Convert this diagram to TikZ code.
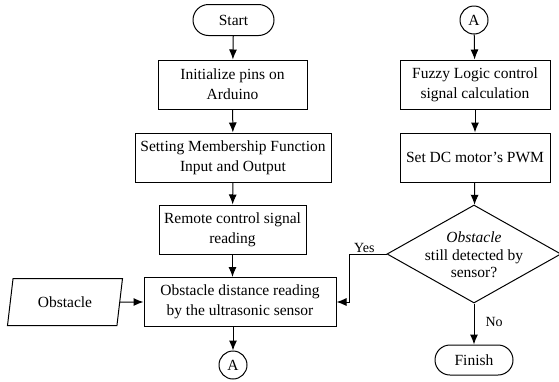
\documentclass[tikz,border=0pt]{standalone}
\usepackage{fontspec}
\setmainfont{Liberation Serif}
\usetikzlibrary{shapes.geometric,shapes.misc,arrows.meta}
\begin{document}
\begin{tikzpicture}[x=1pt,y=-1pt,
  every node/.style={font=\fontsize{15.5}{20}\selectfont},
  box/.style={draw,line width=1pt,rectangle,minimum height=49pt,align=center,inner sep=0pt},
  term/.style={draw,line width=1pt,rounded rectangle,rounded rectangle arc length=180,inner sep=0pt,minimum height=31pt},
  conn/.style={draw,line width=1pt,circle,minimum size=28pt,inner sep=0pt},
  arr/.style={line width=1pt,-{Latex[length=10pt,width=8pt]}},
  lbl/.style={font=\fontsize{14}{16}\selectfont,inner sep=1pt}]
\useasboundingbox (0,0) rectangle (559,381);
\node[term,minimum width=81pt] (start) at (233.5,20) {Start};
\node[box,minimum width=149pt] (b1) at (232.5,84.5) {Initialize pins on\\Arduino};
\node[box,minimum width=196pt] (b2) at (233,157.5) {Setting Membership Function\\Input and Output};
\node[box,minimum width=147pt] (b3) at (232.5,229.5) {Remote control signal\\reading};
\node[box,minimum width=192pt] (b4) at (240,302) {Obstacle distance reading\\by the ultrasonic sensor};
\node[draw,line width=1pt,trapezium,trapezium left angle=63,trapezium right angle=117,trapezium stretches body,minimum width=115pt,minimum height=47pt,inner sep=0pt] (obs) at (65,302) {Obstacle};
\node[conn] (a1) at (233,365) {A};
\node[conn] (a2) at (474,20) {A};
\node[box,minimum width=150pt] (b5) at (475,84.5) {Fuzzy Logic control\\signal calculation};
\node[box,minimum width=150pt] (b6) at (475,157.5) {Set DC motor’s PWM};
\node[draw,line width=1pt,diamond,aspect=1.7755,minimum width=174pt,minimum height=98pt,inner sep=0pt] (dec) at (474,254) {};
\node[align=center,font=\fontsize{15.5}{17.5}\selectfont] (dect) at (474,255) {\textit{Obstacle}\\still detected by\\sensor?};
\node[term,minimum width=78pt,minimum height=30pt] (fin) at (474,360) {Finish};
\draw[arr] (start) -- (b1);
\draw[arr] (b1) -- (b2);
\draw[arr] (b2) -- (b3);
\draw[arr] (b3) -- (b3|-b4.north);
\draw[arr] (obs) -- (b4);
\draw[arr] (b4.south-|a1) -- (a1);
\draw[arr] (a2) -- (b5);
\draw[arr] (b5) -- (b6);
\draw[arr] (b6) -- (dec);
\draw[arr] (dec) -- node[lbl,right,pos=0.45,xshift=10pt]{No} (fin);
\draw[arr] (dec.west) -- node[lbl,above,pos=0.6]{Yes} ++(-37,0) |- (b4.east);
\end{tikzpicture}
\end{document}
